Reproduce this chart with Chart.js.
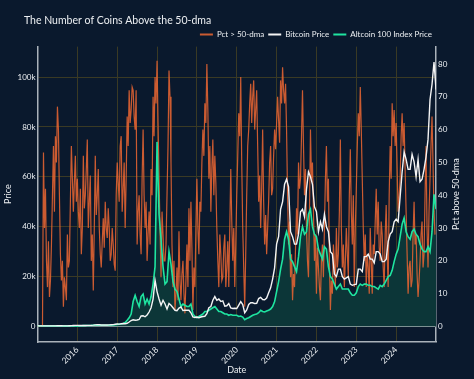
<!DOCTYPE html>
<html>
<head>
<meta charset="utf-8">
<script src="https://cdn.jsdelivr.net/npm/chart.js@4"></script>
<style>
  html, body { margin: 0; padding: 0; background: #0a192d; }
  #wrap { width: 474px; height: 379px; position: relative; }
</style>
</head>
<body>
<div id="wrap"><canvas id="c" width="474" height="379"></canvas></div>
<script>
// ---- data ----
const START_YEAR = 2015.0;   // first sample
const PRICE_STEP = 0.05;     // price samples every 0.05 year
const PCT_STEP = 0.025;      // pct samples every 0.025 year
const yearTicks = [2016, 2017, 2018, 2019, 2020, 2021, 2022, 2023, 2024];
const priceTicks = [0, 20, 40, 60, 80, 100];            // thousands USD
const pctTicks = [0, 10, 20, 30, 40, 50, 60, 70, 80];

const pctAbove50dma = [
  // 2015
  0,0,0,0,0,0,53,30,42,20,12,26,9,14,25,40,55,35,58,50,67,60,40,22,14,20,6,15,12,8,28,18,20,38,55,45,35,44,52,38,
  // 2016
  45,35,30,42,22,30,52,36,40,48,57,30,38,46,20,28,11,30,52,34,40,48,30,22,18,26,33,24,38,30,27,36,30,20,22,30,25,19,17,40,
  // 2017
  50,44,38,55,58,35,42,50,30,45,64,55,72,62,66,73,72,64,60,72,25,35,40,28,22,45,60,40,30,38,20,28,35,25,48,40,70,58,76,68,
  // 2018
  81,62,45,30,15,35,28,20,20,25,40,55,78,70,50,25,12,20,5,10,18,8,29,14,8,16,20,10,4,14,25,12,36,20,38,24,5,18,12,30,
  // 2019
  45,30,22,38,35,50,60,52,68,62,80,66,45,55,35,48,57,40,52,44,30,20,12,28,22,14,15,24,28,12,18,26,12,30,48,32,20,30,12,25,
  // 2020
  40,52,65,58,76,50,30,18,6,22,40,55,60,68,74,62,70,75,60,66,72,55,38,46,30,42,60,38,25,34,22,30,38,50,55,40,42,52,60,54,
  // 2021
  62,70,63,56,75,68,79,72,68,74,60,40,25,32,15,22,8,16,12,24,36,28,50,42,45,58,72,55,40,48,30,20,15,35,60,45,50,35,20,28,
  // 2022
  10,24,18,12,8,20,25,15,30,45,55,38,45,20,5,14,10,25,20,12,30,18,22,35,57,30,18,25,12,20,30,22,15,40,54,35,25,40,12,30,
  // 2023
  42,55,65,58,73,60,45,30,20,28,12,22,18,10,30,20,10,25,22,32,42,28,38,24,20,32,28,18,12,28,37,22,12,40,55,45,68,58,66,55,
  // 2024
  62,48,35,40,45,58,65,55,62,48,35,22,10,18,20,12,14,28,38,25,28,16,9,14,20,28,32,18,22,40,55,30,18,35,45,55,64,50,35,28
];

const bitcoinPriceK = [
  0.3,0.25,0.25,0.25,0.24,0.24,0.23,0.23,0.24,0.25,0.28,0.28,0.27,0.24,0.23,0.25,0.3,0.35,0.4,0.43,
  0.43,0.38,0.4,0.42,0.42,0.43,0.45,0.46,0.53,0.65,0.7,0.67,0.6,0.6,0.6,0.62,0.65,0.72,0.74,0.9,
  1.0,0.95,1.1,1.2,1.1,1.3,1.8,2.4,2.7,2.5,2.6,2.8,4.2,4.3,3.9,4.6,5.8,7.5,11,18.5,
  14,11,8.5,10.5,9,7,9.2,8.5,7.5,6.5,6.3,7.4,7.8,6.4,6.5,6.5,6.5,5.5,3.8,3.6,
  3.8,3.5,3.8,4.0,4.1,5.1,7.5,8.0,10.5,12.0,10.5,11.0,10.0,10.3,8.1,8.3,9.2,7.4,7.2,7.3,
  7.2,8.6,10.0,8.8,5.5,6.6,8.8,9.5,9.5,9.2,9.3,11.2,11.7,10.8,10.7,11.4,13.5,15.5,19.0,23.5,
  33,36,47,50,57,59,56,38,36,33,33,37,46,47,44,55,62,60,57,48,
  46,38,42,39,45,40,38,30,29,21,20,23,23,20,19,19.5,20,17,16.5,16.8,
  17,23,23,22,28,28,29,27,27,25.5,30,30,29,26,26,27,34,37,38,42,
  43,42,52,62,70,67,63,63,69,66,60,67,58,59,63,68,75,91,97,106,
  95
];

const altcoin100IndexK = [
  0.3,0.25,0.22,0.2,0.2,0.18,0.18,0.17,0.17,0.18,0.2,0.2,0.19,0.17,0.16,0.17,0.18,0.2,0.22,0.25,
  0.25,0.26,0.3,0.35,0.38,0.4,0.42,0.45,0.5,0.55,0.6,0.55,0.5,0.5,0.5,0.52,0.55,0.6,0.65,0.7,
  0.8,0.9,1.0,1.2,1.6,2.5,3.5,5,10,12.5,10,8,12,13,9,11,9,12,17,24,
  74,45,35,24,17,18,30,25,18,15,14,11,8,9,8.5,8,8,9,5,4,
  3.5,4,4.5,5,6,6,6.5,7,7.5,8,7,6,6,5.5,5,5,4.5,4.8,4.5,4.5,
  4.5,4,4.2,3.8,2.7,3.2,3.5,4,4.5,4.8,5,5.5,6.5,6,5.8,6.2,6.5,7,8,10,
  14,18,23,27,35,38,35,27,26,24,22,28,36,40,37,38,45,47,40,37,
  36,31,29,27,32,31,24,20,19,17,15,16,17,15,15,15,15,13.5,12.5,12.5,
  13.5,16,17,16.5,17,17,16.5,16.5,16,16,15.5,15,16.5,16,17,18.5,20,20.5,22.5,26,
  29,31,36,41,43.5,38,36,35,38,39,37,36,33,31,30,30,32,30,38,53,
  47
];

const TITLE = 'The Number of Coins Above the 50-dma';
const SERIES_NAMES = ['Pct > 50-dma', 'Bitcoin Price', 'Altcoin 100 Index Price'];
const X_TITLE = 'Date';
const Y_TITLE = 'Price';
const Y2_TITLE = 'Pct above 50-dma';

// ---- styling ----
const FONT = 'Lato';
const TEXT = '#eceff2';
const GRID = '#3a3a24';
const AXISLINE = '#aab2ba';

const pts = (arr, step) => arr.map((v, i) => ({ x: +(START_YEAR + i * step).toFixed(3), y: v }));

const tweaks = {
  id: 'tweaks',
  afterLayout(chart) {
    const t = chart.titleBlock;
    if (t) { t.left = 24; t.top += 2; t.bottom += 2; }
    const l = chart.legend;
    if (l) { l.right = 436; l.top += 2; l.bottom += 2; }
  },
  afterDraw(chart) {
    const { ctx, chartArea, scales } = chart;
    ctx.save();
    ctx.fillStyle = TEXT;
    ctx.font = '9px ' + FONT;
    ctx.textAlign = 'center';
    ctx.textBaseline = 'middle';
    ctx.translate(scales.y2.left + 20, (chartArea.top + chartArea.bottom) / 2);
    ctx.rotate(-Math.PI / 2);
    ctx.fillText(Y2_TITLE, 0, 0);
    ctx.restore();
  }
};

new Chart(document.getElementById('c'), {
  type: 'line',
  data: {
    datasets: [
      {
        label: SERIES_NAMES[0], data: pts(pctAbove50dma, PCT_STEP), yAxisID: 'y2',
        borderColor: 'rgba(230,100,50,0.88)', borderWidth: 1.2, pointRadius: 0,
        fill: false, tension: 0, order: 3
      },
      {
        label: SERIES_NAMES[1], data: pts(bitcoinPriceK, PRICE_STEP), yAxisID: 'y',
        borderColor: '#f4f4f4', borderWidth: 1.4, pointRadius: 0,
        fill: false, tension: 0, order: 1
      },
      {
        label: SERIES_NAMES[2], data: pts(altcoin100IndexK, PRICE_STEP), yAxisID: 'y',
        borderColor: '#1fe4a0', backgroundColor: '#0c3638', borderWidth: 1.6, pointRadius: 0,
        fill: 'origin', tension: 0, order: 2
      }
    ]
  },
  options: {
    responsive: false,
    animation: false,
    devicePixelRatio: 1,
    events: [],
    parsing: false,
    layout: { padding: 0 },
    plugins: {
      filler: { drawTime: 'beforeDatasetsDraw' },
      tooltip: { enabled: false },
      title: {
        display: true, text: TITLE, align: 'start', color: TEXT,
        font: { family: FONT, size: 10.5, weight: 'normal' },
        padding: { top: 12, bottom: 0 }
      },
      legend: {
        display: true, position: 'top', align: 'end',
        labels: {
          color: TEXT, font: { family: FONT, size: 8 },
          boxWidth: 13, boxHeight: 2, padding: 4,
          generateLabels: chart => chart.data.datasets.map((ds, i) => ({
            text: ds.label, fillStyle: ds.borderColor, strokeStyle: ds.borderColor,
            lineWidth: 0, hidden: false, datasetIndex: i, fontColor: TEXT
          }))
        }
      }
    },
    scales: {
      x: {
        type: 'linear', min: 2015, max: 2025,
        afterBuildTicks: s => { s.ticks = yearTicks.map(v => ({ value: v })); },
        afterFit: s => { s.height = 37.3; },
        ticks: {
          color: TEXT, font: { family: FONT, size: 8.5 }, padding: 3,
          maxRotation: 45, minRotation: 45, callback: v => String(v)
        },
        grid: { color: GRID, lineWidth: 1, drawTicks: false },
        border: { display: true, color: AXISLINE, width: 1.5 },
        title: { display: true, text: X_TITLE, color: TEXT, font: { family: FONT, size: 9 }, padding: { top: 0, bottom: 4 } }
      },
      y: {
        type: 'linear', position: 'left', min: -6.1, max: 112.2,
        afterBuildTicks: s => { s.ticks = priceTicks.map(v => ({ value: v })); },
        afterFit: s => { s.width = 37.5; },
        ticks: {
          color: TEXT, font: { family: FONT, size: 8 }, padding: 2,
          callback: v => (v === 0 ? '0' : v + 'k')
        },
        grid: {
          drawTicks: false,
          color: c => (c.tick && c.tick.value === 0 ? '#ececec' : GRID),
          lineWidth: c => (c.tick && c.tick.value === 0 ? 2 : 1)
        },
        border: { display: true, color: AXISLINE, width: 1.5 },
        title: { display: true, text: Y_TITLE, color: TEXT, font: { family: FONT, size: 9 }, padding: { top: 3, bottom: 0 } }
      },
      y2: {
        type: 'linear', position: 'right', min: -4.64, max: 85.3,
        afterBuildTicks: s => { s.ticks = pctTicks.map(v => ({ value: v })); },
        afterFit: s => { s.width = 38; },
        ticks: { color: TEXT, font: { family: FONT, size: 8 }, padding: 2, callback: v => String(v) },
        grid: { drawOnChartArea: false, drawTicks: false },
        border: { display: true, color: AXISLINE, width: 1.5 },
        title: { display: false }
      }
    }
  },
  plugins: [tweaks]
});
</script>
</body>
</html>
